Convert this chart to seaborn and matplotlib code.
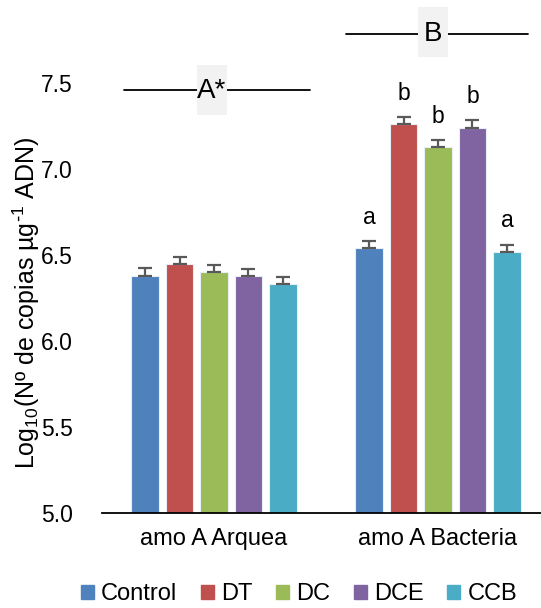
import pandas as pd
import seaborn as sns
import matplotlib.pyplot as plt
from matplotlib.patches import Rectangle

genes = ['amo A Arquea', 'amo A Bacteria']
treatments = ['Control', 'DT', 'DC', 'DCE', 'CCB']
colors = ['#4F81BD', '#C0504D', '#9BBB59', '#8064A2', '#4BACC6']

arquea = [6.38, 6.45, 6.40, 6.38, 6.33]
bacteria = [6.54, 7.26, 7.13, 7.24, 6.52]
err_arquea = [0.045, 0.04, 0.04, 0.04, 0.045]
err_bacteria = [0.04, 0.04, 0.04, 0.045, 0.04]
letters_bacteria = ['a', 'b', 'b', 'b', 'a']

rows = []
for t, v, e in zip(treatments, arquea, err_arquea):
    rows.append((genes[0], t, v, e))
for t, v, e in zip(treatments, bacteria, err_bacteria):
    rows.append((genes[1], t, v, e))
data = pd.DataFrame(rows, columns=['gene', 'treatment', 'value', 'err'])

sns.set_style("white")
plt.rcParams['font.family'] = ['Liberation Sans', 'DejaVu Sans']
plt.rcParams['mathtext.default'] = 'regular'
plt.rcParams['text.color'] = 'black'
plt.rcParams['axes.labelcolor'] = 'black'
plt.rcParams['xtick.color'] = 'black'
plt.rcParams['ytick.color'] = 'black'

fig = plt.figure(figsize=(5.41, 6.08), dpi=100)
ax = fig.add_axes([102/541, 1 - 513/608, 439/541, 430/608])

sns.barplot(data=data, x='gene', y='value', hue='treatment', order=genes,
            hue_order=treatments, palette=colors, saturation=1,
            width=0.77, gap=0.2, errorbar=None, legend=False,
            edgecolor='#e8eef5', linewidth=0.8, ax=ax)

ax.set_ylim(5.0, 7.5)
ax.set_xlim(-0.5, -0.5 + 439/224)
ax.set_yticks([5.0, 5.5, 6.0, 6.5, 7.0, 7.5])
ax.set_yticklabels(['5.0', '5.5', '6.0', '6.5', '7.0', '7.5'])
ax.tick_params(axis='y', length=0, labelsize=16.5, pad=21)
ax.tick_params(axis='x', length=0, labelsize=17, pad=11)
ax.set_xlabel('')
ax.set_ylabel(r'Log$_{10}$(Nº de copias µg$^{\text{-}1}$ ADN)', fontsize=18, labelpad=0)
ax.yaxis.set_label_coords(-0.137, 0.49)
for s in ['left', 'top', 'right']:
    ax.spines[s].set_visible(False)
ax.spines['bottom'].set_color('black')
ax.spines['bottom'].set_linewidth(1.3)

# error bars and letters
bar_containers = list(ax.containers)
for i, cont in enumerate(bar_containers):
    for bar in cont.patches:
        xc = bar.get_x() + bar.get_width() / 2
        g = int(round(xc))
        row = data[(data.gene == genes[g]) & (data.treatment == treatments[i])].iloc[0]
        ax.errorbar(xc, row.value, yerr=[[0], [row.err]], fmt='none',
                    ecolor='#595959', elinewidth=1.6, capsize=5, capthick=1.6)
        if g == 1:
            ax.text(xc, row.value + row.err + 0.1, letters_bacteria[i],
                    ha='center', va='baseline', fontsize=16.5)

# group brackets with grey label boxes
ax.plot([-0.40, 0.43], [7.46, 7.46], color='black', lw=1.3, clip_on=False)
ax.add_patch(Rectangle((-0.076, 7.314), 0.134, 0.291, facecolor='#f2f2f2',
                       edgecolor='none', clip_on=False, zorder=3))
ax.text(-0.01, 7.455, 'A*', ha='center', va='center', fontsize=20, zorder=4)

ax.plot([0.59, 1.40], [7.785, 7.785], color='black', lw=1.3, clip_on=False)
ax.add_patch(Rectangle((0.911, 7.651), 0.134, 0.291, facecolor='#f2f2f2',
                       edgecolor='none', clip_on=False, zorder=3))
ax.text(0.978, 7.785, 'B', ha='center', va='center', fontsize=20, zorder=4)

handles = [plt.Rectangle((0, 0), 1, 1, color=c) for c in colors]
fig.legend(handles, treatments, loc='center', bbox_to_anchor=(299/541, 1 - 594/608),
           ncol=5, frameon=False, fontsize=17, handlelength=0.55, handleheight=0.55,
           handletextpad=0.3, columnspacing=1.0)

fig.savefig('out.png', dpi=100)
